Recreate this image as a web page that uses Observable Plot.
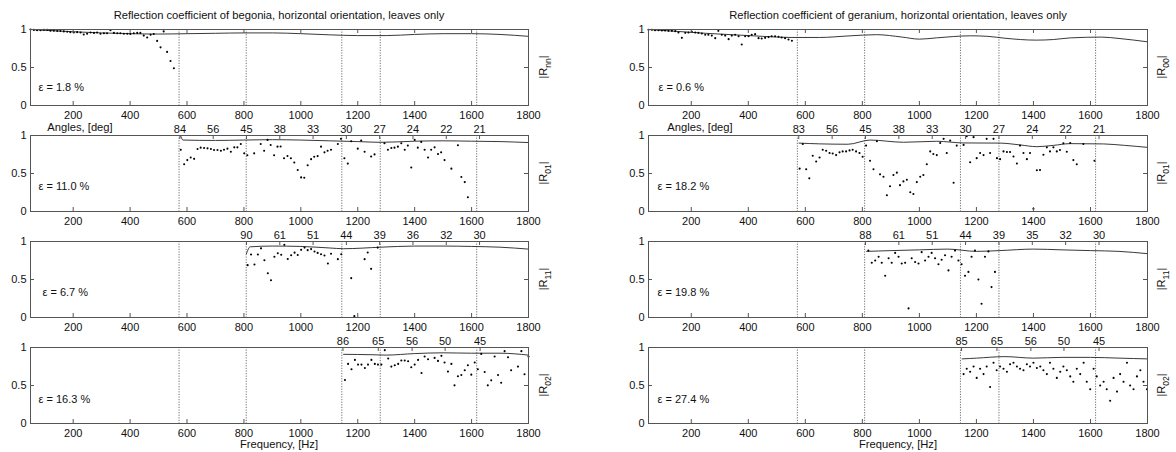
<!DOCTYPE html>
<html><head><meta charset="utf-8">
<script src="https://cdn.jsdelivr.net/npm/d3@7"></script>
<script src="https://cdn.jsdelivr.net/npm/@observablehq/plot@0.6"></script>
<style>
body{margin:0;background:#fff;}
#wrap{position:relative;width:1176px;height:452px;overflow:hidden;background:#fff;font-family:"Liberation Sans",Arial,sans-serif;}
.lbl{position:absolute;font-size:11.2px;color:#111;white-space:nowrap;line-height:12px;}
.ylab{position:absolute;font-size:11px;color:#111;white-space:nowrap;transform:translate(-50%,-50%) rotate(-90deg);}
.ylab sub{font-size:8.5px;}
.pan{position:absolute;}
</style></head><body><div id="wrap"></div>
<script>
// ---------- shared ----------
const xTicks = [200,400,600,800,1000,1200,1400,1600,1800];
const yTicks = [0,0.5,1];
const cutoffs = [572,808,1144,1279,1618];

// ---------- begonia (left) ----------
const bR00f = [50,62,73,85,97,109,120,132,144,155,167,179,190,202,214,226,237,249,261,273,284,296,308,319,331,343,355,366,378,390,401,413,425,436,448,460,472,483,495,507,518,530,542,554];
const bR00v = [1.0,0.995,0.99,0.99,0.995,0.995,0.985,0.985,0.98,0.98,0.975,0.97,0.965,0.96,0.965,0.96,0.935,0.945,0.96,0.955,0.96,0.945,0.95,0.95,0.99,0.955,0.95,0.95,0.945,0.945,0.94,0.95,0.955,0.955,0.92,0.895,0.93,0.94,0.85,0.765,0.975,0.705,0.585,0.49];
const bR00lf = [50,100,200,300,400,500,600,700,800,900,1000,1100,1200,1300,1400,1500,1600,1700,1800];
const bR00lv = [1.0,0.99,0.97,0.955,0.945,0.94,0.945,0.95,0.955,0.955,0.945,0.93,0.92,0.92,0.935,0.945,0.945,0.935,0.91];

const bR01f = [578,590,601,613,625,637,648,660,672,684,695,707,719,730,742,754,766,777,789,801,812,836,859,871,883,894,906,918,929,941,953,965,977,989,1001,1012,1024,1036,1047,1059,1071,1083,1094,1106,1130,1141,1153,1165,1177,1200,1212,1224,1247,1259,1294,1306,1318,1329,1341,1353,1365,1376,1388,1400,1411,1423,1435,1447,1458,1470,1482,1493,1505,1529,1552,1564,1576,1587];
const bR01v = [0.813,0.622,0.676,0.711,0.693,0.822,0.84,0.836,0.831,0.822,0.809,0.809,0.80,0.813,0.827,0.787,0.844,0.844,0.889,0.765,0.74,0.765,0.889,0.80,0.942,0.875,0.74,0.853,0.855,0.70,0.73,0.70,0.645,0.547,0.449,0.444,0.609,0.689,0.72,0.729,0.853,0.778,0.80,0.813,0.889,0.956,0.70,0.63,0.924,0.827,0.933,0.787,0.724,0.751,0.898,0.813,0.836,0.84,0.853,0.898,0.813,0.867,0.578,0.942,0.84,0.916,0.813,0.711,0.813,0.844,0.756,0.778,0.676,0.564,0.871,0.453,0.387,0.187];
const bR01lf = [577,586,700,800,900,1000,1100,1200,1280,1400,1500,1600,1700,1800];
const bR01lv = [1.0,0.94,0.935,0.94,0.945,0.94,0.93,0.92,0.91,0.925,0.93,0.925,0.92,0.907];
const bR01tf = [575,692,809,926,1043,1160,1277,1394,1511,1628];
const bR01tl = ["84","56","45","38","33","30","27","24","22","21"];

const bR11f = [813,825,837,849,860,872,884,895,907,919,931,942,954,966,978,989,1001,1013,1024,1036,1048,1059,1071,1083,1095,1106,1130,1142,1177,1188,1224,1235,1247,1270];
const bR11v = [0.689,0.829,0.697,0.829,0.91,0.754,0.583,0.491,0.80,0.846,0.825,0.956,0.77,0.82,0.853,0.823,0.89,0.92,0.886,0.90,0.868,0.85,0.833,0.816,0.71,0.838,0.768,0.833,0.518,0.018,0.768,0.855,0.64,0.92];
const bR11lf = [809,822,900,1000,1100,1150,1280,1400,1500,1600,1700,1800];
const bR11lv = [0.84,0.93,0.94,0.935,0.915,0.905,0.925,0.94,0.94,0.935,0.925,0.90];
const bR11tf = [809,926,1043,1160,1277,1394,1511,1628];
const bR11tl = ["90","61","51","44","39","36","32","30"];

const bR02f = [1155,1166,1178,1190,1201,1213,1225,1236,1248,1260,1271,1283,1295,1307,1318,1330,1342,1353,1365,1377,1388,1400,1412,1424,1435,1447,1470,1482,1494,1505,1517,1529,1540,1552,1564,1576,1587,1599,1611,1622,1634,1646,1657,1669,1681,1693,1704,1716,1728,1739,1763,1775,1786,1800];
const bR02v = [0.573,0.784,0.714,0.837,0.775,0.775,0.731,0.775,0.837,0.784,0.775,0.775,0.965,0.855,0.749,0.767,0.784,0.828,0.828,0.819,0.74,0.775,0.837,0.665,0.881,0.846,0.863,0.824,0.89,0.802,0.683,0.784,0.502,0.621,0.639,0.70,0.767,0.643,0.802,0.714,0.916,0.678,0.502,0.568,0.881,0.639,0.537,0.952,0.872,0.70,0.749,0.952,0.648,0.881];
const bR02lf = [1150,1250,1300,1400,1500,1600,1700,1800];
const bR02lv = [0.91,0.905,0.90,0.92,0.93,0.925,0.925,0.90];
const bR02tf = [1148,1272,1391,1507,1630];
const bR02tl = ["86","65","56","50","45"];

// ---------- geranium (right) ----------
const gR00f = [50,62,73,85,97,108,120,132,144,155,167,179,190,202,214,225,237,249,260,272,284,295,307,319,331,342,354,366,377,389,401,412,424,436,447,459,471,482,494,506,517,529,541,553];
const gR00v = [0.996,0.996,0.991,0.991,0.987,0.987,0.982,0.982,0.978,0.96,0.89,0.956,0.96,0.97,0.96,0.956,0.947,0.93,0.93,0.92,0.886,0.982,0.93,0.92,0.873,0.92,0.93,0.912,0.803,0.912,0.912,0.93,0.939,0.886,0.882,0.89,0.90,0.912,0.912,0.904,0.895,0.886,0.868,0.851];
const gR00lf = [50,150,250,350,450,550,650,750,850,940,1000,1060,1180,1240,1300,1410,1470,1530,1640,1700,1800];
const gR00lv = [1.0,0.975,0.95,0.93,0.91,0.895,0.895,0.915,0.932,0.90,0.873,0.89,0.917,0.91,0.885,0.86,0.868,0.89,0.90,0.882,0.838];

const gR01f = [580,591,603,614,626,638,650,661,673,685,696,708,720,731,743,755,766,778,790,801,813,827,839,851,862,874,886,897,909,921,932,944,956,968,979,991,1003,1014,1026,1038,1049,1061,1073,1085,1096,1108,1120,1131,1155,1166,1178,1190,1201,1213,1225,1236,1248,1260,1272,1283,1295,1307,1318,1330,1342,1353,1365,1377,1388,1400,1412,1423,1435,1447,1458,1470,1482,1493,1505,1517,1529,1540,1552,1575,1614];
const gR01v = [0.564,0.889,0.556,0.436,0.733,0.658,0.711,0.813,0.80,0.769,0.764,0.742,0.778,0.791,0.791,0.804,0.813,0.791,0.769,0.72,0.867,0.667,0.556,0.924,0.489,0.458,0.213,0.333,0.48,0.511,0.347,0.396,0.418,0.253,0.231,0.387,0.458,0.48,0.622,0.791,0.756,0.742,0.902,0.956,0.769,0.933,0.378,0.867,0.876,0.991,0.649,0.978,0.702,0.769,0.742,0.956,0.769,0.956,0.702,0.689,0.791,0.782,0.782,0.724,0.631,0.867,0.769,0.689,0.769,0.036,0.542,0.547,0.747,0.844,0.791,0.844,0.791,0.809,0.898,0.787,0.902,0.676,0.622,0.889,0.667];
const gR01lf = [578,650,750,827,944,1061,1155,1283,1353,1412,1470,1529,1646,1720,1800];
const gR01lv = [0.90,0.89,0.885,0.94,0.911,0.924,0.902,0.90,0.876,0.853,0.87,0.893,0.889,0.87,0.844];
const gR01tf = [577,694,811,928,1045,1162,1279,1396,1513,1630];
const gR01tl = ["83","56","45","38","33","30","27","24","22","21"];

const gR11f = [821,833,845,857,868,880,892,903,915,927,938,950,962,973,985,997,1008,1020,1032,1043,1055,1067,1078,1090,1102,1113,1125,1137,1148,1160,1172,1183,1195,1207,1218,1230,1242,1253,1265];
const gR11v = [0.88,0.72,0.75,0.80,0.72,0.55,0.78,0.72,0.85,0.80,0.71,0.72,0.12,0.78,0.73,0.71,0.86,0.75,0.80,0.85,0.78,0.70,0.76,0.82,0.62,0.80,0.88,0.75,0.70,0.55,0.60,0.80,0.88,0.50,0.18,0.80,0.87,0.40,0.60];
const gR11lf = [815,900,1000,1100,1200,1280,1400,1500,1600,1700,1800];
const gR11lv = [0.87,0.88,0.89,0.90,0.87,0.88,0.90,0.89,0.88,0.87,0.84];
const gR11tf = [811,928,1045,1162,1279,1396,1513,1630];
const gR11tl = ["88","61","51","44","39","35","32","30"];

const gR02f = [1155,1166,1178,1190,1201,1213,1225,1236,1248,1260,1271,1283,1295,1307,1318,1330,1342,1353,1365,1377,1388,1400,1412,1424,1435,1447,1458,1470,1482,1494,1505,1517,1529,1540,1552,1564,1576,1587,1599,1611,1622,1634,1646,1657,1669,1681,1693,1704,1716,1728,1739,1751,1763,1775,1786,1798];
const gR02v = [0.65,0.72,0.68,0.75,0.60,0.72,0.65,0.75,0.48,0.80,0.70,0.75,0.72,0.68,0.78,0.80,0.75,0.72,0.70,0.78,0.75,0.80,0.73,0.75,0.70,0.65,0.80,0.72,0.60,0.68,0.75,0.70,0.62,0.55,0.72,0.65,0.80,0.55,0.45,0.72,0.62,0.50,0.55,0.45,0.30,0.60,0.42,0.65,0.55,0.80,0.50,0.45,0.62,0.70,0.55,0.45];
const gR02lf = [1150,1200,1300,1400,1500,1600,1700,1800];
const gR02lv = [0.85,0.86,0.88,0.86,0.87,0.87,0.86,0.85];
const gR02tf = [1148,1272,1391,1507,1630];
const gR02tl = ["85","65","56","50","45"];

// ---------- layout ----------
const W = 588, PH = 76, MT = 14, MB = 16;
const frameTops = [29,135,241,347];
const wrap = document.getElementById("wrap");
const zip = (a,b,k1,k2) => a.map((v,i)=>({[k1]:v,[k2]:b[i]}));

function panel(o){
  const pw = W - o.ml - o.mr;
  const dots = zip(o.f, o.v, "f", "v");
  const line = zip(o.lf, o.lv, "f", "v");
  const topT = o.tf ? zip(o.tf, o.tl, "f", "t") : xTicks.map(f=>({f, t:""}));
  const marks = [
    Plot.ruleX(cutoffs, {stroke:"#333", strokeWidth:0.7, strokeDasharray:"1.2,1.4"}),
    Plot.line(line, {x:"f", y:"v", curve:"monotone-x", stroke:"#222", strokeWidth:0.9}),
    Plot.dot(dots, {x:"f", y:"v", r:1.05, fill:"#000", stroke:null}),
    Plot.tickX(xTicks, {x:d=>d, insetTop:PH-4, stroke:"#555"}),
    Plot.tickX(topT, {x:"f", insetBottom:PH-4, stroke:"#555"}),
    Plot.tickY(yTicks, {y:d=>d, insetRight:pw-4, stroke:"#555"}),
    Plot.tickY(yTicks, {y:d=>d, insetLeft:pw-4, stroke:"#555"}),
    Plot.frame({stroke:"#555", strokeWidth:1}),
    Plot.axisX(xTicks, {anchor:"bottom", tickSize:0, tickPadding:6, tickFormat:d=>String(d), fill:"#111", label:null}),
    Plot.axisY(yTicks, {anchor:"left", tickSize:0, tickPadding:4, tickFormat:d=>String(d), fill:"#111", label:null}),
    Plot.text([o.eps], {text:d=>d, frameAnchor:"bottom-left", dx:o.edx, dy:-o.edy, textAnchor:"start", fill:"#111"})
  ];
  if (o.tf) marks.push(Plot.text(topT, {x:"f", text:"t", frameAnchor:"top", lineAnchor:"bottom", dy:-3, fill:"#111"}));
  const svg = Plot.plot({
    width: W, height: MT+PH+MB,
    marginLeft:o.ml, marginRight:o.mr, marginTop:MT, marginBottom:MB,
    x:{domain:[50,1800], label:null}, y:{domain:[0,1], label:null},
    style:{fontFamily:"Liberation Sans, Arial, sans-serif", fontSize:"11px", background:"none", overflow:"visible"},
    marks
  });
  svg.classList.add("pan");
  svg.style.left = o.left+"px";
  svg.style.top = (frameTops[o.row]-MT)+"px";
  wrap.appendChild(svg);
  const lab = document.createElement("div");
  lab.className = "ylab";
  lab.innerHTML = "|R<sub>"+o.sub+"</sub>|";
  lab.style.left = o.labx+"px";
  lab.style.top = (frameTops[o.row]+PH/2)+"px";
  wrap.appendChild(lab);
}

const L = {left:0, ml:30, mr:60, labx:545};
const R = {left:588, ml:60, mr:29, labx:1163};
panel({...L,row:0,f:bR00f,v:bR00v,lf:bR00lf,lv:bR00lv,eps:"ε = 1.8 %",edx:8,edy:15,sub:"nn"});
panel({...L,row:1,f:bR01f,v:bR01v,lf:bR01lf,lv:bR01lv,tf:bR01tf,tl:bR01tl,eps:"ε = 11.0 %",edx:8,edy:22,sub:"01"});
panel({...L,row:2,f:bR11f,v:bR11v,lf:bR11lf,lv:bR11lv,tf:bR11tf,tl:bR11tl,eps:"ε = 6.7 %",edx:12,edy:22,sub:"11"});
panel({...L,row:3,f:bR02f,v:bR02v,lf:bR02lf,lv:bR02lv,tf:bR02tf,tl:bR02tl,eps:"ε = 16.3 %",edx:8,edy:21,sub:"02"});
panel({...R,row:0,f:gR00f,v:gR00v,lf:gR00lf,lv:gR00lv,eps:"ε = 0.6 %",edx:10,edy:15,sub:"00"});
panel({...R,row:1,f:gR01f,v:gR01v,lf:gR01lf,lv:gR01lv,tf:gR01tf,tl:gR01tl,eps:"ε = 18.2 %",edx:9,edy:22,sub:"01"});
panel({...R,row:2,f:gR11f,v:gR11v,lf:gR11lf,lv:gR11lv,tf:gR11tf,tl:gR11tl,eps:"ε = 19.8 %",edx:9,edy:22,sub:"11"});
panel({...R,row:3,f:gR02f,v:gR02v,lf:gR02lf,lv:gR02lv,tf:gR02tf,tl:gR02tl,eps:"ε = 27.4 %",edx:9,edy:21,sub:"02"});

function addLabel(txt, cx, top){
  const d = document.createElement("div");
  d.className = "lbl"; d.textContent = txt;
  d.style.top = top+"px"; d.style.left = cx+"px"; d.style.transform = "translateX(-50%)";
  wrap.appendChild(d);
}
addLabel("Reflection coefficient of begonia, horizontal orientation, leaves only", 279, 9);
addLabel("Reflection coefficient of geranium, horizontal orientation, leaves only", 898, 9);
addLabel("Angles, [deg]", 80, 121);
addLabel("Angles, [deg]", 700, 121);
addLabel("Frequency, [Hz]", 279, 438);
addLabel("Frequency, [Hz]", 898, 438);
</script></body></html>
